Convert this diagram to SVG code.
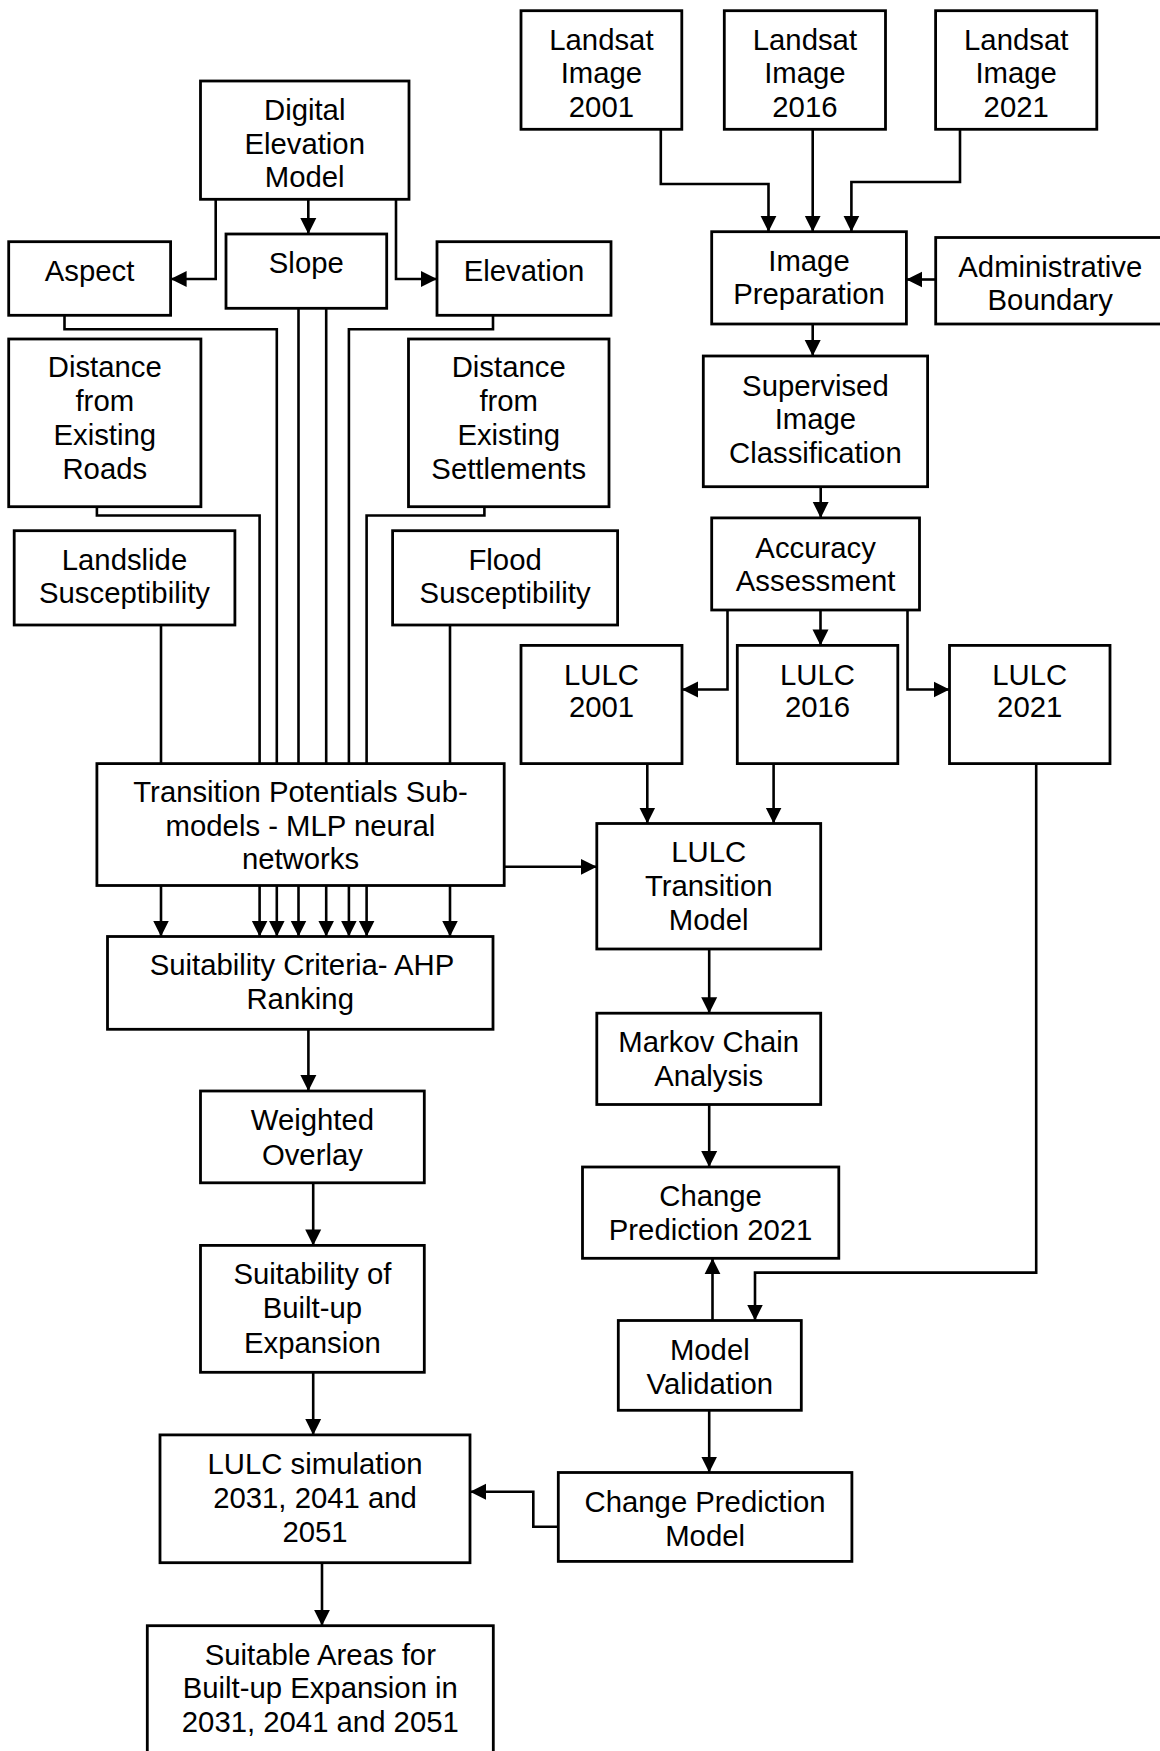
<svg xmlns="http://www.w3.org/2000/svg" width="1160" height="1751" viewBox="0 0 1160 1751">
<style>
.box{fill:#fff;stroke:#000;stroke-width:2.8}
.t{font-family:"Liberation Sans",Arial,Helvetica,sans-serif;font-size:29.3px;text-anchor:middle;fill:#000}
.c{fill:none;stroke:#000;stroke-width:2.6}
.a{marker-end:url(#ah)}
</style>
<defs>
<marker id="ah" markerUnits="userSpaceOnUse" markerWidth="18" markerHeight="18" viewBox="0 0 18 18" refX="16" refY="9" orient="auto">
<path d="M0,1 L16,9 L0,17 z" fill="#000"/>
</marker>
</defs>
<rect width="1160" height="1751" fill="#fff"/>
<g id="connectors">
<path class="c a" d="M660.8,129.3 V184 H768.5 V231.7"/>
<path class="c a" d="M812.7,129.3 V231.7"/>
<path class="c a" d="M960,129.3 V182 H851.4 V231.7"/>
<path class="c a" d="M935.7,279.5 H906.4"/>
<path class="c a" d="M812.7,324 V356"/>
<path class="c a" d="M820.7,486.7 V517.9"/>
<path class="c a" d="M727.5,610 V689.5 H682"/>
<path class="c a" d="M820.5,610 V645.4"/>
<path class="c a" d="M907.5,610 V689.5 H949.5"/>
<path class="c a" d="M647.3,763.6 V823.5"/>
<path class="c a" d="M773.6,763.6 V823.5"/>
<path class="c a" d="M504.2,866.8 H596.8"/>
<path class="c a" d="M709.2,949 V1013.2"/>
<path class="c a" d="M709.2,1104.5 V1167"/>
<path class="c a" d="M712.5,1320.5 V1258.3"/>
<path class="c a" d="M1036.2,763.6 V1272.6 H755 V1320.5"/>
<path class="c a" d="M709.2,1410.3 V1472.5"/>
<path class="c a" d="M558.3,1526.7 H533.3 V1491.7 H470"/>
<path class="c a" d="M215.7,199.3 V279 H170.6"/>
<path class="c a" d="M308.3,199.3 V234"/>
<path class="c a" d="M396,199.3 V279 H437"/>
<path class="c" d="M64.5,315.3 V329.3 H276.8 V763.6"/>
<path class="c" d="M298.5,308.3 V763.6"/>
<path class="c" d="M326.2,308.3 V763.6"/>
<path class="c" d="M493,315.3 V329.3 H348.9 V763.6"/>
<path class="c" d="M96.9,506.7 V515.5 H259.6 V763.6"/>
<path class="c" d="M484.4,506.7 V515.5 H366.6 V763.6"/>
<path class="c" d="M161,625 V763.6"/>
<path class="c" d="M450,625 V763.6"/>
<path class="c a" d="M161,885.5 V936.5"/>
<path class="c a" d="M259.6,885.5 V936.5"/>
<path class="c a" d="M276.8,885.5 V936.5"/>
<path class="c a" d="M298.5,885.5 V936.5"/>
<path class="c a" d="M326.2,885.5 V936.5"/>
<path class="c a" d="M348.9,885.5 V936.5"/>
<path class="c a" d="M366.6,885.5 V936.5"/>
<path class="c a" d="M450,885.5 V936.5"/>
<path class="c a" d="M308.4,1029.3 V1091"/>
<path class="c a" d="M313.2,1182.8 V1245.4"/>
<path class="c a" d="M313.2,1372.3 V1434.9"/>
<path class="c a" d="M322,1562.7 V1625.7"/>
</g>
<g id="landsat2001"><rect class="box" x="521" y="10.7" width="160.8" height="118.6"/><text class="t" x="601.4" y="49.5">Landsat</text><text class="t" x="601.4" y="83">Image</text><text class="t" x="601.4" y="116.5">2001</text></g>
<g id="landsat2016"><rect class="box" x="724.3" y="10.7" width="161.2" height="118.6"/><text class="t" x="804.9" y="49.5">Landsat</text><text class="t" x="804.9" y="83">Image</text><text class="t" x="804.9" y="116.5">2016</text></g>
<g id="landsat2021"><rect class="box" x="935.6" y="10.7" width="161.2" height="118.6"/><text class="t" x="1016.2" y="49.5">Landsat</text><text class="t" x="1016.2" y="83">Image</text><text class="t" x="1016.2" y="116.5">2021</text></g>
<g id="dem"><rect class="box" x="200.5" y="81" width="208.5" height="118.3"/><text class="t" x="304.7" y="120">Digital</text><text class="t" x="304.7" y="153.5">Elevation</text><text class="t" x="304.7" y="187">Model</text></g>
<g id="aspect"><rect class="box" x="8.7" y="241.7" width="161.9" height="73.6"/><text class="t" x="89.6" y="281">Aspect</text></g>
<g id="slope"><rect class="box" x="226" y="234" width="160.7" height="74.3"/><text class="t" x="306.3" y="273">Slope</text></g>
<g id="elevation"><rect class="box" x="437" y="241.7" width="174" height="73.6"/><text class="t" x="524" y="281">Elevation</text></g>
<g id="imageprep"><rect class="box" x="711.7" y="231.7" width="194.7" height="92.3"/><text class="t" x="809" y="270.5">Image</text><text class="t" x="809" y="304">Preparation</text></g>
<g id="admin"><rect class="box" x="935.7" y="237.5" width="229.3" height="86.5"/><text class="t" x="1050.3" y="276.5">Administrative</text><text class="t" x="1050.3" y="309.5">Boundary</text></g>
<g id="distroads"><rect class="box" x="8.7" y="339" width="192.2" height="167.7"/><text class="t" x="104.8" y="377">Distance</text><text class="t" x="104.8" y="411">from</text><text class="t" x="104.8" y="445">Existing</text><text class="t" x="104.8" y="478.5">Roads</text></g>
<g id="distsettlements"><rect class="box" x="408.5" y="339" width="200.5" height="167.7"/><text class="t" x="508.7" y="377">Distance</text><text class="t" x="508.7" y="411">from</text><text class="t" x="508.7" y="445">Existing</text><text class="t" x="508.7" y="478.5">Settlements</text></g>
<g id="supervised"><rect class="box" x="703.3" y="356" width="224.3" height="130.7"/><text class="t" x="815.4" y="395.5">Supervised</text><text class="t" x="815.4" y="429">Image</text><text class="t" x="815.4" y="463">Classification</text></g>
<g id="landslide"><rect class="box" x="14.2" y="530.7" width="220.7" height="94.3"/><text class="t" x="124.5" y="569.5">Landslide</text><text class="t" x="124.5" y="603">Susceptibility</text></g>
<g id="flood"><rect class="box" x="392.6" y="530.7" width="225" height="94.3"/><text class="t" x="505.1" y="569.5">Flood</text><text class="t" x="505.1" y="603">Susceptibility</text></g>
<g id="accuracy"><rect class="box" x="711.7" y="517.9" width="207.8" height="92.1"/><text class="t" x="815.6" y="557.8">Accuracy</text><text class="t" x="815.6" y="591">Assessment</text></g>
<g id="lulc2001"><rect class="box" x="521" y="645.4" width="161" height="118.2"/><text class="t" x="601.5" y="684.5">LULC</text><text class="t" x="601.5" y="716.8">2001</text></g>
<g id="lulc2016"><rect class="box" x="737.3" y="645.4" width="160.5" height="118.2"/><text class="t" x="817.5" y="684.5">LULC</text><text class="t" x="817.5" y="716.8">2016</text></g>
<g id="lulc2021"><rect class="box" x="949.5" y="645.4" width="160.5" height="118.2"/><text class="t" x="1029.7" y="684.5">LULC</text><text class="t" x="1029.7" y="716.8">2021</text></g>
<g id="tp"><rect class="box" x="96.9" y="763.6" width="407.3" height="121.9"/><text class="t" x="300.5" y="801.5">Transition Potentials Sub-</text><text class="t" x="300.5" y="835.5">models - MLP neural</text><text class="t" x="300.5" y="868.5">networks</text></g>
<g id="transition"><rect class="box" x="596.8" y="823.5" width="223.9" height="125.5"/><text class="t" x="708.7" y="862">LULC</text><text class="t" x="708.7" y="896">Transition</text><text class="t" x="708.7" y="930">Model</text></g>
<g id="suitcriteria"><rect class="box" x="107.5" y="936.5" width="385.5" height="92.8"/><text class="t" x="302" y="974.5">Suitability Criteria- AHP</text><text class="t" x="300.2" y="1008.6">Ranking</text></g>
<g id="markov"><rect class="box" x="596.8" y="1013.2" width="223.9" height="91.3"/><text class="t" x="708.7" y="1052">Markov Chain</text><text class="t" x="708.7" y="1086">Analysis</text></g>
<g id="weighted"><rect class="box" x="200.5" y="1091" width="223.8" height="91.8"/><text class="t" x="312.4" y="1130.4">Weighted</text><text class="t" x="312.4" y="1165">Overlay</text></g>
<g id="cp2021"><rect class="box" x="582.5" y="1167" width="256.3" height="91.3"/><text class="t" x="710.6" y="1206.4">Change</text><text class="t" x="710.6" y="1240">Prediction 2021</text></g>
<g id="suitbuiltup"><rect class="box" x="200.5" y="1245.4" width="223.8" height="126.9"/><text class="t" x="312.4" y="1284">Suitability of</text><text class="t" x="312.4" y="1318">Built-up</text><text class="t" x="312.4" y="1352.5">Expansion</text></g>
<g id="validation"><rect class="box" x="618.3" y="1320.5" width="183" height="89.8"/><text class="t" x="709.8" y="1360">Model</text><text class="t" x="709.8" y="1394">Validation</text></g>
<g id="lulcsim"><rect class="box" x="160" y="1434.9" width="310" height="127.8"/><text class="t" x="315" y="1473.5">LULC simulation</text><text class="t" x="315" y="1507.8">2031, 2041 and</text><text class="t" x="315" y="1542">2051</text></g>
<g id="cpm"><rect class="box" x="558.3" y="1472.5" width="293.6" height="88.9"/><text class="t" x="705.1" y="1511.8">Change Prediction</text><text class="t" x="705.1" y="1545.5">Model</text></g>
<g id="suitableareas"><rect class="box" x="147.3" y="1625.7" width="346" height="140"/><text class="t" x="320.3" y="1664.5">Suitable Areas for</text><text class="t" x="320.3" y="1698">Built-up Expansion in</text><text class="t" x="320.3" y="1732">2031, 2041 and 2051</text></g>
</svg>
